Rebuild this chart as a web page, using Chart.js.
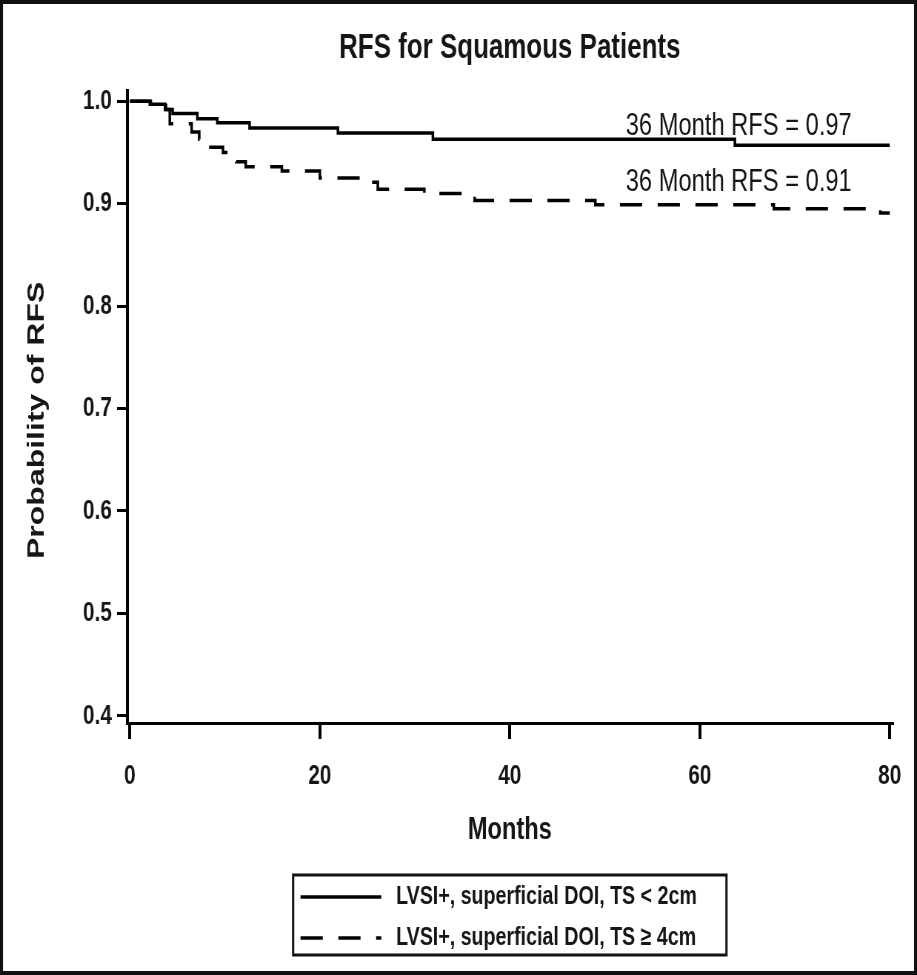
<!DOCTYPE html>
<html>
<head>
<meta charset="utf-8">
<script src="https://cdn.jsdelivr.net/npm/chart.js@4/dist/chart.umd.min.js"></script>
<style>
  html, body { margin: 0; padding: 0; background: #fff; overflow: hidden; }
  #wrap { position: absolute; left: 0; top: 0; transform-origin: 0 0; }
</style>
</head>
<body>
<div id="wrap"><canvas id="km"></canvas></div>
<script>
// Kaplan-Meier steps (months, probability)
var solidMonths = [0, 2.1, 3.7, 4.5, 7.1, 9.2, 12.6, 21.9, 31.9, 63.7, 80];
var solidRfs = [1.0, 0.997, 0.992, 0.988, 0.983, 0.979, 0.974, 0.969, 0.963, 0.957, 0.957];

var dashMonths = [0, 3.8, 4.2, 6.5, 7.3, 8.2, 9.8, 10.5, 11.2, 12.2, 16.0, 20.0, 24.5, 26.1, 31.0, 36.3, 49.0, 67.8, 79.0, 80];
var dashRfs = [1.0, 0.992, 0.978, 0.970, 0.963, 0.955, 0.950, 0.946, 0.941, 0.936, 0.932, 0.925, 0.921, 0.914, 0.910, 0.903, 0.899, 0.895, 0.891, 0.891];

var seriesLabels = ["LVSI+, superficial DOI, TS < 2cm", "LVSI+, superficial DOI, TS \u2265 4cm"];
var xTicks = [0, 20, 40, 60, 80];
var yTicks = [0.4, 0.5, 0.6, 0.7, 0.8, 0.9, 1.0];

// 36 month notes, placed at (month, probability)
var noteText = ["36 Month RFS = 0.97", "36 Month RFS = 0.91"];
var noteMonth = [76, 76];
var noteRfs = [0.967, 0.912];

// the original picture is squeezed sideways, so draw wider and squeeze
var S = 1.35;
var W = Math.round(917 * S);
var H = 975;
var FONT = "'Liberation Sans', Arial, sans-serif";
var INK = "#161616";

var wrap = document.getElementById("wrap");
wrap.style.width = W + "px";
wrap.style.height = H + "px";
wrap.style.transform = "scaleX(" + (917 / W) + ")";
var cv = document.getElementById("km");
cv.width = W;
cv.height = H;

function toPoints(xs, ys) {
  var out = [];
  for (var i = 0; i < xs.length; i++) out.push({ x: xs[i], y: ys[i] });
  return out;
}

var framePlugin = {
  id: "frame",
  beforeDraw: function (chart) {
    var ctx = chart.ctx;
    ctx.save();
    ctx.fillStyle = "#fff";
    ctx.fillRect(0, 0, W, H);
    ctx.restore();
  },
  afterDraw: function (chart) {
    var ctx = chart.ctx;
    var xs = chart.scales.x, ys = chart.scales.y;
    ctx.save();
    // outer frame
    ctx.fillStyle = "#111";
    ctx.fillRect(0, 0, W, 4);
    ctx.fillRect(0, H - 4, W, 4);
    ctx.fillRect(0, 0, 3 * S, H);
    ctx.fillRect(W - 3 * S, 0, 3 * S, H);

    // notes
    ctx.fillStyle = INK;
    ctx.font = "32px " + FONT;
    ctx.textAlign = "right";
    ctx.textBaseline = "alphabetic";
    for (var i = 0; i < noteText.length; i++) {
      ctx.fillText(noteText[i], xs.getPixelForValue(noteMonth[i]), ys.getPixelForValue(noteRfs[i]));
    }

    // legend box
    var ca = chart.chartArea;
    var cx = (ca.left + ca.right) / 2;
    var bw = 585, bh = 80;
    var bx = cx - bw / 2, by = 875;
    ctx.lineWidth = 3;
    ctx.strokeStyle = "#111";
    ctx.setLineDash([]);
    ctx.strokeRect(bx, by, bw, bh);
    ctx.font = "bold 26.5px " + FONT;
    ctx.textAlign = "left";
    ctx.textBaseline = "middle";
    var rows = [by + 22, by + 63];
    chart.data.datasets.forEach(function (ds, k) {
      ctx.save();
      ctx.strokeStyle = ds.borderColor;
      ctx.lineWidth = 3.5;
      ctx.setLineDash(ds.borderDash || []);
      ctx.beginPath();
      ctx.moveTo(bx + 10, rows[k]);
      ctx.lineTo(bx + 119, rows[k]);
      ctx.stroke();
      ctx.restore();
      ctx.fillStyle = INK;
      ctx.fillText(ds.label, bx + 139, rows[k]);
    });
    ctx.restore();
  }
};

new Chart(cv, {
  type: "scatter",
  data: {
    datasets: [
      {
        label: seriesLabels[0],
        data: toPoints(solidMonths, solidRfs),
        showLine: true,
        stepped: true,
        borderColor: "#000",
        borderWidth: 3.5,
        pointRadius: 0,
        fill: false
      },
      {
        label: seriesLabels[1],
        data: toPoints(dashMonths, dashRfs),
        showLine: true,
        stepped: true,
        borderColor: "#000",
        borderWidth: 3.5,
        borderDash: [30, 21],
        pointRadius: 0,
        fill: false
      }
    ]
  },
  options: {
    responsive: false,
    devicePixelRatio: 1,
    animation: false,
    layout: { padding: { left: 0, right: 33, top: 0, bottom: 112 } },
    plugins: {
      legend: { display: false },
      tooltip: { enabled: false },
      title: {
        display: true,
        fullSize: false,
        text: "RFS for Squamous Patients",
        color: INK,
        font: { family: FONT, size: 35, weight: "bold", lineHeight: 1.2 },
        padding: { top: 27, bottom: 22 }
      }
    },
    scales: {
      x: {
        type: "linear",
        min: -0.3,
        max: 80.3,
        afterBuildTicks: function (s) { s.ticks = xTicks.map(function (v) { return { value: v }; }); },
        afterFit: function (s) { s.height = 140; },
        border: { display: true, color: "#000", width: 3 },
        grid: { display: true, drawOnChartArea: false, drawTicks: true, tickLength: 16, color: "#000", lineWidth: 4 },
        ticks: { color: INK, font: { family: FONT, size: 28, weight: "bold" }, padding: 20, maxRotation: 0, autoSkip: false },
        title: {
          display: true,
          text: "Months",
          color: INK,
          font: { family: FONT, size: 32, weight: "bold", lineHeight: 1.2 },
          padding: { top: 0, bottom: 13.8 }
        }
      },
      y: {
        type: "linear",
        min: 0.393,
        max: 1.01,
        afterBuildTicks: function (s) { s.ticks = yTicks.map(function (v) { return { value: v }; }); },
        afterFit: function (s) { s.width = 171.5; },
        border: { display: true, color: "#000", width: 4 },
        grid: { display: true, drawOnChartArea: false, drawTicks: true, tickLength: 13.5, color: "#000", lineWidth: 3 },
        ticks: {
          color: INK,
          font: { family: FONT, size: 28, weight: "bold" },
          padding: 7,
          autoSkip: false,
          callback: function (v) { return Number(v).toFixed(1); }
        },
        title: {
          display: true,
          text: "Probability of RFS   ",
          color: INK,
          font: { family: FONT, size: 32, weight: "bold", lineHeight: 1.2 },
          padding: { top: 31, bottom: 0 }
        }
      }
    }
  },
  plugins: [framePlugin]
});
</script>
</body>
</html>
